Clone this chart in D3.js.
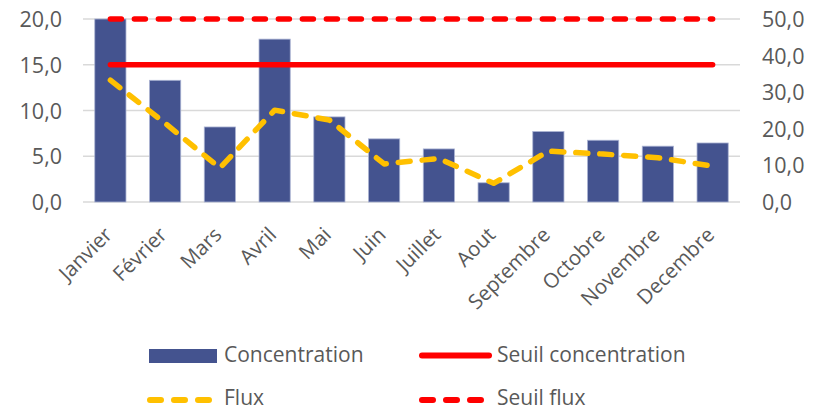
<!DOCTYPE html>
<html>
<head>
<meta charset="utf-8">
<script src="https://cdn.jsdelivr.net/npm/d3@7"></script>
<style>
  body { margin: 0; background: #fff; }
  text { font-family: "Open Sans", sans-serif; fill: #595959; }
</style>
</head>
<body>
<svg id="svg" width="822" height="412"></svg>
<script>
const months = ['Janvier', 'Février', 'Mars', 'Avril', 'Mai', 'Juin', 'Juillet', 'Aout', 'Septembre', 'Octobre', 'Novembre', 'Decembre'];
const concentration = [20.0, 13.3, 8.2, 17.8, 9.3, 6.9, 5.8, 2.1, 7.7, 6.75, 6.1, 6.45];
const flux = [33.3, 21.5, 9.3, 25.1, 22.4, 10.4, 11.9, 5.1, 13.9, 13.1, 12.1, 9.8];
const seuilConcentration = 15;
const seuilFlux = 50;
const leftTicks = [0, 5, 10, 15, 20];
const rightTicks = [0, 10, 20, 30, 40, 50];

const plotLeft = 83, plotRight = 740, plotTop = 19, plotBottom = 202;

const svg = d3.select('#svg');

const x = d3.scaleBand()
  .domain(months)
  .range([plotLeft, plotRight])
  .paddingInner(0.43)
  .paddingOuter(0.215);

const yL = d3.scaleLinear().domain([0, 20]).range([plotBottom, plotTop]);
const yR = d3.scaleLinear().domain([0, 50]).range([plotBottom, plotTop]);

const fmt = d => d.toFixed(1).replace('.', ',');

// grid
svg.append('g')
  .selectAll('line')
  .data(leftTicks)
  .enter()
  .append('line')
  .attr('x1', plotLeft).attr('x2', plotRight)
  .attr('y1', d => yL(d)).attr('y2', d => yL(d))
  .attr('stroke', '#d9d9d9')
  .attr('stroke-width', 1.5);

// left axis
const axL = svg.append('g')
  .attr('transform', 'translate(' + (plotLeft - 21) + ',0)')
  .call(d3.axisLeft(yL).tickValues(leftTicks).tickFormat(fmt).tickSize(0).tickPadding(0));
axL.select('.domain').remove();
axL.selectAll('text').style('font-size', '21.5px').attr('dy', '0.35em');

// right axis
const axR = svg.append('g')
  .attr('transform', 'translate(' + (plotRight + 22) + ',0)')
  .call(d3.axisRight(yR).tickValues(rightTicks).tickFormat(fmt).tickSize(0).tickPadding(0));
axR.select('.domain').remove();
axR.selectAll('text').style('font-size', '21.5px').attr('dy', '0.35em');

// bars
svg.append('g')
  .selectAll('rect')
  .data(concentration)
  .enter()
  .append('rect')
  .attr('x', (d, i) => x(months[i]))
  .attr('y', d => yL(d))
  .attr('width', x.bandwidth())
  .attr('height', d => plotBottom - yL(d))
  .attr('fill', '#44538f')
  .attr('stroke', '#aab3d3')
  .attr('stroke-width', 0.8);

const cx = m => x(m) + x.bandwidth() / 2;

// seuil concentration
svg.append('line')
  .attr('x1', cx(months[0])).attr('x2', cx(months[11]))
  .attr('y1', yL(seuilConcentration)).attr('y2', yL(seuilConcentration))
  .attr('stroke', '#ff0000')
  .attr('stroke-width', 5.5)
  .attr('stroke-linecap', 'round');

// flux
const line = d3.line()
  .x((d, i) => cx(months[i]))
  .y(d => yR(d));

svg.append('path')
  .datum(flux)
  .attr('d', line)
  .attr('fill', 'none')
  .attr('stroke', '#ffc000')
  .attr('stroke-width', 5.5)
  .attr('stroke-linecap', 'round')
  .attr('stroke-linejoin', 'round')
  .attr('stroke-dasharray', '12,12');

// seuil flux
svg.append('line')
  .attr('x1', cx(months[0])).attr('x2', cx(months[11]))
  .attr('y1', yR(seuilFlux)).attr('y2', yR(seuilFlux))
  .attr('stroke', '#ff0000')
  .attr('stroke-width', 5.5)
  .attr('stroke-linecap', 'round')
  .attr('stroke-dasharray', '11,13');

// x labels
svg.append('g')
  .selectAll('text')
  .data(months)
  .enter()
  .append('text')
  .attr('text-anchor', 'end')
  .style('font-size', '20.5px')
  .attr('transform', d => 'translate(' + (cx(d) + 3) + ',' + (plotBottom + 34) + ') rotate(-45)')
  .text(d => d);

// legend
const lg = svg.append('g');
lg.append('rect')
  .attr('x', 149).attr('y', 349).attr('width', 68).attr('height', 14)
  .attr('fill', '#44538f');
lg.append('text').attr('x', 224).attr('y', 362)
  .style('font-size', '21px').text('Concentration');

lg.append('line')
  .attr('x1', 422).attr('x2', 489).attr('y1', 355.5).attr('y2', 355.5)
  .attr('stroke', '#ff0000').attr('stroke-width', 6).attr('stroke-linecap', 'round');
lg.append('text').attr('x', 497).attr('y', 362)
  .style('font-size', '21px').text('Seuil concentration');

lg.append('line')
  .attr('x1', 150).attr('x2', 212).attr('y1', 400).attr('y2', 400)
  .attr('stroke', '#ffc000').attr('stroke-width', 6).attr('stroke-linecap', 'round')
  .attr('stroke-dasharray', '11,13');
lg.append('text').attr('x', 224).attr('y', 405)
  .style('font-size', '21px').text('Flux');

lg.append('line')
  .attr('x1', 422).attr('x2', 482).attr('y1', 400).attr('y2', 400)
  .attr('stroke', '#ff0000').attr('stroke-width', 6).attr('stroke-linecap', 'round')
  .attr('stroke-dasharray', '11,13');
lg.append('text').attr('x', 497).attr('y', 405)
  .style('font-size', '21px').text('Seuil flux');
</script>
</body>
</html>
